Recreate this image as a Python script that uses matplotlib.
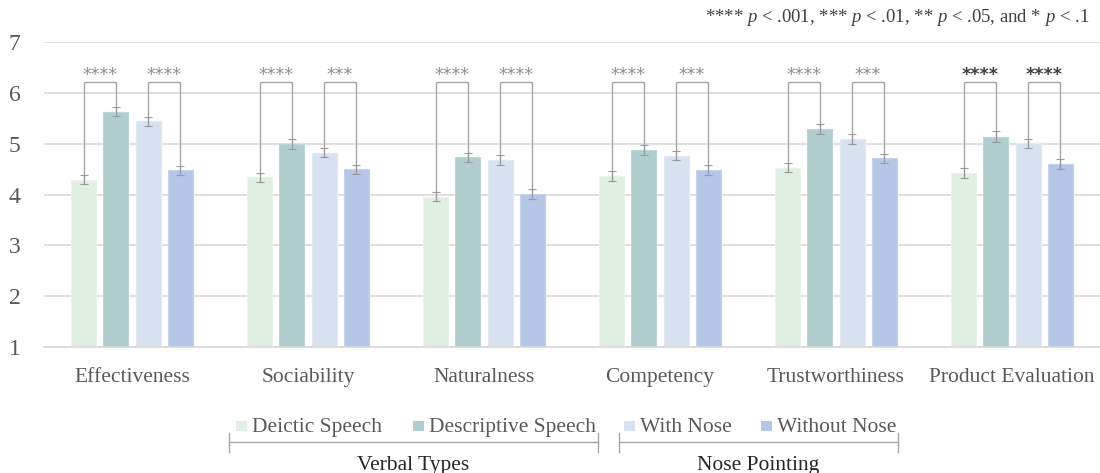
import matplotlib
matplotlib.use("Agg")
import matplotlib.pyplot as plt
from matplotlib.patches import Rectangle
from matplotlib.lines import Line2D
import numpy as np

plt.rcParams['font.family'] = ['Liberation Serif', 'DejaVu Serif']
plt.rcParams['mathtext.fontset'] = 'custom'
plt.rcParams['mathtext.rm'] = 'Liberation Serif'
plt.rcParams['mathtext.it'] = 'Liberation Serif:italic'

categories = ["Effectiveness", "Sociability", "Naturalness", "Competency",
              "Trustworthiness", "Product Evaluation"]
series_names = ["Deictic Speech", "Descriptive Speech", "With Nose", "Without Nose"]
deictic = [4.29, 4.34, 3.96, 4.37, 4.53, 4.43]
descriptive = [5.63, 5.00, 4.73, 4.88, 5.29, 5.14]
with_nose = [5.44, 4.82, 4.68, 4.76, 5.09, 5.01]
without_nose = [4.48, 4.50, 4.01, 4.48, 4.71, 4.60]
err_deictic = [0.09, 0.09, 0.09, 0.10, 0.09, 0.10]
err_descriptive = [0.09, 0.10, 0.09, 0.10, 0.10, 0.10]
err_with = [0.09, 0.09, 0.09, 0.09, 0.10, 0.09]
err_without = [0.09, 0.09, 0.09, 0.10, 0.09, 0.10]
sig_verbal = ["****", "****", "****", "****", "****", "****"]
sig_nose = ["****", "***", "****", "***", "***", "****"]
group_labels = ["Verbal Types", "Nose Pointing"]
note = r"**** $p$ < .001, *** $p$ < .01, ** $p$ < .05, and * $p$ < .1"

colors = ["#E0EEE3", "#AFCECD", "#D9E2F3", "#B4C7E7"]
edges = ["#E8F3EA", "#BCD8D6", "#E2E9F6", "#C3D2EC"]
txt = "#595959"

values = [deictic, descriptive, with_nose, without_nose]
errs = [err_deictic, err_descriptive, err_with, err_without]

W, H = 1100, 473
fig = plt.figure(figsize=(11, 4.73), dpi=100)
ax = fig.add_axes([0.04, 1 - 347 / H, 0.96, (347 - 42) / H])

x = np.arange(len(categories))
step = 0.182
width = 0.142
offsets = [-1.5 * step, -0.5 * step, 0.5 * step, 1.5 * step]

for s in range(4):
    ax.bar(x + offsets[s], np.array(values[s]) - 1, width, bottom=1,
           color=colors[s], edgecolor=edges[s], linewidth=0.8, zorder=2)
    ax.errorbar(x + offsets[s], values[s], yerr=errs[s], fmt='none',
                ecolor='#9A9A9A', elinewidth=0.8, capsize=3, capthick=0.8, zorder=4)

bracket_top = 6.22
star_y = 6.36
for i in range(len(categories)):
    dark = (i == len(categories) - 1)
    scol = '#404040' if dark else '#8C8C8C'
    for (a, b, lab) in [(0, 1, sig_verbal[i]), (2, 3, sig_nose[i])]:
        xa = x[i] + offsets[a]
        xb = x[i] + offsets[b]
        ya = values[a][i] - errs[a][i]
        yb = values[b][i] - errs[b][i]
        ax.plot([xa, xa, xb, xb], [ya, bracket_top, bracket_top, yb],
                color='#A6A6A6', lw=1.0, zorder=3, solid_joinstyle='miter')
        ax.text((xa + xb) / 2, star_y, lab, ha='center', va='center',
                fontsize=12.5, color=scol, fontweight='bold' if dark else 'normal',
                family='DejaVu Sans')

ax.set_xlim(-0.5, len(categories) - 0.5)
ax.set_ylim(1, 7)
ax.set_yticks([1, 2, 3, 4, 5, 6, 7])
ax.yaxis.grid(True, color='#D9D9D9', lw=1.2, zorder=0)
ax.set_axisbelow(True)
for sp in ['top', 'right', 'left']:
    ax.spines[sp].set_visible(False)
ax.spines['bottom'].set_color('#D9D9D9')
ax.spines['bottom'].set_linewidth(1.2)
ax.tick_params(axis='both', length=0)
ax.tick_params(axis='y', labelsize=17, labelcolor=txt, pad=17)
ax.set_xticks(x)
ax.set_xticklabels(categories, fontsize=15.5, color=txt)
ax.tick_params(axis='x', pad=15)

fig.text(1089 / W, 1 - 17 / H, note, ha='right', va='center',
         fontsize=13.5, color='#404040')

# legend entries (placed as in the reference)
leg_x = [236, 413, 624, 761]
for s in range(4):
    fig.add_artist(Rectangle((leg_x[s] / W, 1 - 431 / H), 11 / W, 10 / H,
                             transform=fig.transFigure, facecolor=colors[s],
                             edgecolor='none'))
    fig.text((leg_x[s] + 16) / W, 1 - 427 / H, series_names[s], ha='left', va='center',
             fontsize=15.5, color=txt)

# group brackets under legend
for (x0, x1, lab) in [(229, 598, group_labels[0]), (619, 898, group_labels[1])]:
    yl = 1 - 442 / H
    fig.add_artist(Line2D([x0 / W, x1 / W], [yl, yl], color='#A6A6A6', lw=1.0))
    for xx in (x0, x1):
        fig.add_artist(Line2D([xx / W, xx / W], [1 - 433 / H, 1 - 452 / H],
                              color='#A6A6A6', lw=1.0))
    fig.text((x0 + x1) / 2 / W, 1 - 465 / H, lab, ha='center', va='center',
             fontsize=15.5, color='#262626')

fig.savefig("out.png", dpi=100)
